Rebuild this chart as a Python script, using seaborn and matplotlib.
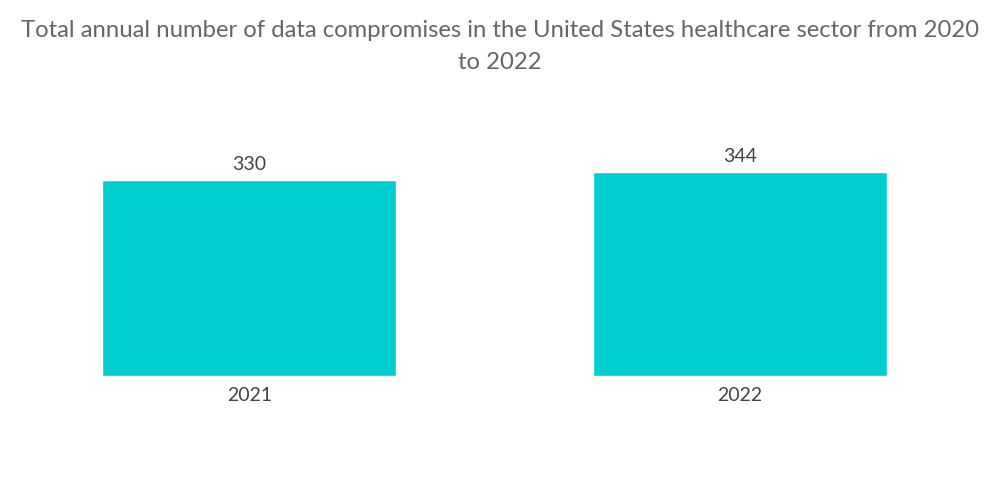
import seaborn as sns
import matplotlib.pyplot as plt
import pandas as pd

# Data
years = ['2021', '2022']
compromises = [330, 344]

df = pd.DataFrame({'year': years, 'count': compromises})

sns.set_style('white')
plt.rcParams['font.family'] = ['Lato', 'DejaVu Sans']

fig = plt.figure(figsize=(10, 5.04), dpi=100)
ax = fig.add_axes([0.004, 0.254, 0.981, 0.466])

sns.barplot(data=df, x='year', y='count', color='#00CED1', width=0.6,
            saturation=1, ax=ax)

for i, v in enumerate(compromises):
    ax.text(i, v + 12, str(v), ha='center', va='bottom', fontsize=14, color='#444444')

ax.set_xlim(-0.5, 1.5)
ax.set_ylim(0, 396)
ax.set_xlabel('')
ax.set_ylabel('')
ax.set_yticks([])
ax.tick_params(axis='x', length=0, labelsize=14, labelcolor='#444444', pad=8)
sns.despine(ax=ax, left=True, bottom=True)

fig.suptitle('Total annual number of data compromises in the United States healthcare sector from 2020\nto 2022',
             y=0.96, fontsize=17.2, color='#666666', linespacing=1.65)

fig.savefig('out.png', dpi=100)
